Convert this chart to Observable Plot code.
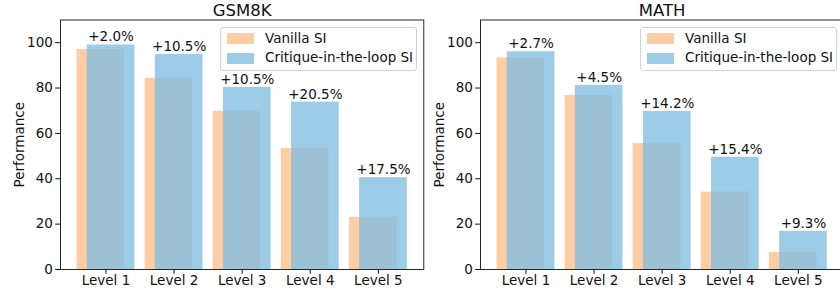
<!DOCTYPE html>
<html>
<head>
<meta charset="utf-8">
<script src="https://cdn.jsdelivr.net/npm/d3@7"></script>
<script src="https://cdn.jsdelivr.net/npm/@observablehq/plot@0.6"></script>
<style>
  html, body { margin: 0; padding: 0; background: white; overflow: hidden; width: 840px; height: 290px; }
  .panel { position: absolute; top: 0; height: 290px; }
  .legend { position: absolute; box-sizing: border-box; border: 1px solid #d3d3d3; border-radius: 3px;
            background: rgba(255,255,255,0.8); font-family: "DejaVu Sans", sans-serif; font-size: 13.5px; color: #111; }
  .sw { position: absolute; left: 6px; width: 27px; height: 11px; }
  .lt { position: absolute; left: 44px; line-height: 15px; white-space: nowrap; }
</style>
</head>
<body>
<script>
const levels = ["Level 1", "Level 2", "Level 3", "Level 4", "Level 5"];
const seriesNames = ["Vanilla SI", "Critique-in-the-loop SI"];

const gsmVanilla = [97.0, 84.3, 69.8, 53.3, 23.0];
const gsmCritique = [99.0, 94.8, 80.3, 73.8, 40.5];
const gsmGain = ["+2.0%", "+10.5%", "+10.5%", "+20.5%", "+17.5%"];

const mathVanilla = [93.3, 76.7, 55.5, 34.1, 7.5];
const mathCritique = [96.0, 81.2, 69.7, 49.5, 16.8];
const mathGain = ["+2.7%", "+4.5%", "+14.2%", "+15.4%", "+9.3%"];

const orange = "#fdcda3";
const blue = "#80bde3";
const blueOpacity = 0.77;
const blueSwatch = "#9dcce9";

const W = 425, H = 290, ML = 60, MR = 1.7, MT = 19.5, MB = 21;
const FONT = "DejaVu Sans, sans-serif";
const FS = 13.5;

function panel(left, title, vanilla, critique, gain) {
  const rows = levels.map((lv, i) => ({i, lv, v: vanilla[i], c: critique[i], g: gain[i]}));
  const chart = Plot.plot({
    width: W, height: H,
    marginLeft: ML, marginRight: MR, marginTop: MT, marginBottom: MB,
    style: {fontFamily: FONT, fontSize: FS + "px", background: "transparent", maxWidth: "none", overflow: "visible", color: "#111"},
    x: {type: "linear", domain: [-0.6675, 4.6675], ticks: 5, tickFormat: d => levels[d] ?? "", tickSize: 4.8, tickPadding: 1.5, label: null},
    y: {domain: [0, 110], ticks: 6, tickSize: 4.8, tickPadding: 2.8, label: null},
    marks: [
      Plot.rect(rows, {x1: d => d.i - 0.425, x2: d => d.i + 0.275, y1: 0, y2: "v", fill: orange}),
      Plot.rect(rows, {x1: d => d.i - 0.275, x2: d => d.i + 0.425, y1: 0, y2: "c", fill: blue, fillOpacity: blueOpacity}),
      Plot.text(rows, {x: d => d.i + 0.075, y: "c", text: "g", dy: -7.8, fontSize: FS, fill: "#111", lineAnchor: "middle"}),
      Plot.frame({stroke: "#111", strokeWidth: 0.9}),
      Plot.text([title], {frameAnchor: "top", text: d => d, dy: -9.3, fontSize: 16.5, fill: "#111", lineAnchor: "middle", textAnchor: "middle"}),
      Plot.text(["Performance"], {frameAnchor: "left", text: d => d, dx: -41, rotate: -90, fontSize: FS, fill: "#111", lineAnchor: "middle", textAnchor: "middle"})
    ]
  });
  const div = document.createElement("div");
  div.className = "panel";
  div.style.left = left + "px";
  div.style.width = W + "px";
  div.appendChild(chart);
  const frameRight = W - MR;
  const lg = document.createElement("div");
  lg.className = "legend";
  lg.style.left = (frameRight - 6.7 - 196.5) + "px";
  lg.style.top = "26.7px";
  lg.style.width = "196.5px";
  lg.style.height = "44px";
  const colors = [orange, blueSwatch];
  seriesNames.forEach((name, k) => {
    const sw = document.createElement("div");
    sw.className = "sw";
    sw.style.top = (5.3 + 20 * k) + "px";
    sw.style.background = colors[k];
    lg.appendChild(sw);
    const t = document.createElement("div");
    t.className = "lt";
    t.style.top = (3.2 + 19.5 * k) + "px";
    t.textContent = name;
    lg.appendChild(t);
  });
  div.appendChild(lg);
  document.body.appendChild(div);
}

panel(0, "GSM8K", gsmVanilla, gsmCritique, gsmGain);
panel(420, "MATH", mathVanilla, mathCritique, mathGain);
</script>
</body>
</html>
